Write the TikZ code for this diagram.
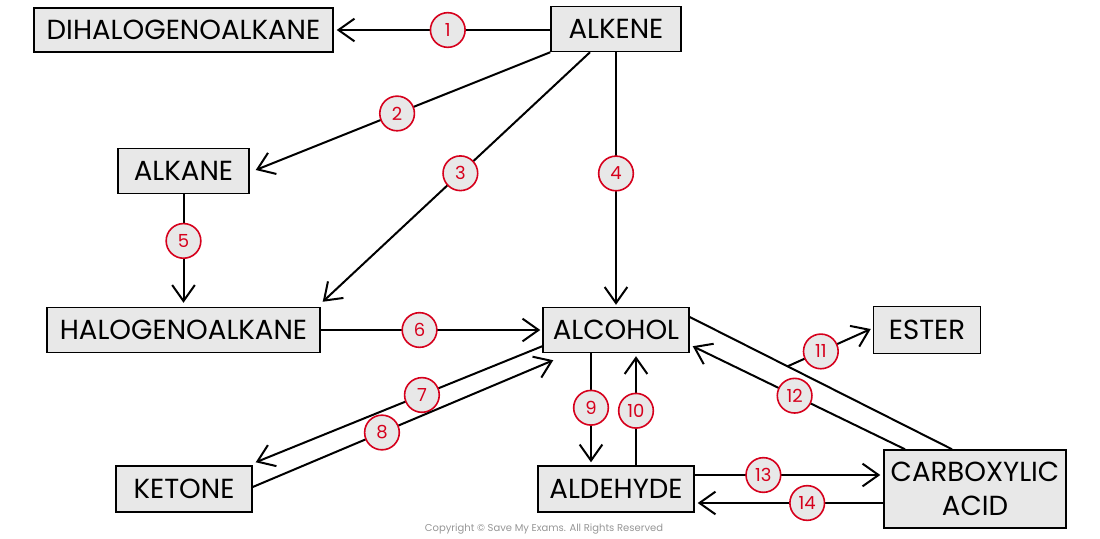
\documentclass[tikz,border=0pt]{standalone}
\usepackage{fontspec}
\setmainfont{Poppins}
\usetikzlibrary{arrows.meta,calc}
\definecolor{boxfill}{RGB}{232,232,232}
\definecolor{numred}{RGB}{214,0,28}
\definecolor{copygray}{RGB}{150,150,150}
\begin{document}
\begin{tikzpicture}[x=0.75pt,y=-0.75pt,
 box/.style={draw=black,line width=1.1pt,fill=boxfill,font=\fontsize{20.7}{26}\selectfont,inner sep=0pt,align=center},
 conn/.style={line width=1.5pt,-{Straight Barb[length=12pt,width=17pt,line width=1.5pt]}},
 plainline/.style={line width=1.5pt},
 num/.style={circle,draw=numred,line width=1.2pt,fill=boxfill,text=numred,minimum size=26pt,inner sep=0pt,font=\fontsize{13.5}{13.5}\selectfont}]
\useasboundingbox (0,0) rectangle (1100,539);
% nodes
\node[box,minimum width=224.25pt,minimum height=33pt] (dihalo) at (183.5,30) {DIHALOGENOALKANE};
\node[box,minimum width=97.5pt,minimum height=33.75pt] (alkene) at (616,29) {ALKENE};
\node[box,minimum width=98.25pt,minimum height=33.75pt] (alkane) at (183.5,171) {ALKANE};
\node[box,minimum width=204.75pt,minimum height=33.75pt] (halo) at (183.5,330) {HALOGENOALKANE};
\node[box,minimum width=109.5pt,minimum height=33.75pt] (alcohol) at (616,330) {ALCOHOL};
\node[box,minimum width=80.25pt,minimum height=35.25pt] (ester) at (927,330) {ESTER};
\node[box,minimum width=102pt,minimum height=34.5pt] (ketone) at (184,489) {KETONE};
\node[box,minimum width=117pt,minimum height=34.5pt] (aldehyde) at (616,489) {ALDEHYDE};
\node[box,minimum width=136.5pt,minimum height=58.5pt] (carboxylic) at (975,489) {CARBOXYLIC\\ACID};
\node[text=copygray,font=\fontsize{7.5}{8}\selectfont] (copy) at (544,529) {Copyright © Save My Exams. All Rights Reserved};
% connectors
\draw[conn] (alkene.west |- dihalo.east) -- node[num,pos=0.48]{1} ($(dihalo.east)+(3,0)$);
\draw[conn] (alkene.south west) -- node[num,pos=0.52]{2} ($(alkane.east)+(6,-1)$);
\draw[conn] ($(alkene.south)+(-26,0)$) -- node[num,pos=0.485]{3} ($(halo.north east)+(2,-5)$);
\draw[conn] (alkene.south) -- node[num,pos=0.48]{4} ($(alcohol.north)+(0,-2)$);
\draw[conn] (alkane.south) -- node[num,pos=0.43]{5} ($(halo.north)+(0,-4)$);
\draw[conn] (halo.east) -- node[num,pos=0.45]{6} ($(alcohol.west)+(-2,0)$);
\draw[conn] ($(alcohol.south west)+(0,-7)$) -- node[num,pos=0.42]{7} ($(ketone.north east)+(3,-3)$);
\draw[conn] ($(ketone.east)+(0,-2)$) -- node[num,pos=0.43]{8} ($(alcohol.south west)+(11,7)$);
\draw[conn] ($(alcohol.south)+(-25,0)$) -- node[num,pos=0.5]{9} ($(aldehyde.north)+(-25,-3)$);
\draw[conn] ($(aldehyde.north)+(20,0)$) -- node[num,pos=0.5]{10} ($(alcohol.south)+(20,3)$);
\draw[plainline] ($(alcohol.east)+(0,-13)$) -- coordinate[pos=0.373] (b11) ($(carboxylic.north)+(-23,0)$);
\draw[conn] (b11) -- node[num,pos=0.4]{11} ($(ester.west)+(-2,-1)$);
\draw[conn] ($(carboxylic.north)+(-70,0)$) -- node[num,pos=0.52]{12} ($(alcohol.south east)+(3,-7)$);
\draw[conn] ($(aldehyde.east)+(0,-14)$) -- node[num,pos=0.37]{13} ($(carboxylic.west |- aldehyde.east)+(-3,-14)$);
\draw[conn] ($(carboxylic.west)+(0,14)$) -- node[num,pos=0.41]{14} ($(aldehyde.east |- carboxylic.west)+(3,14)$);
\end{tikzpicture}
\end{document}
